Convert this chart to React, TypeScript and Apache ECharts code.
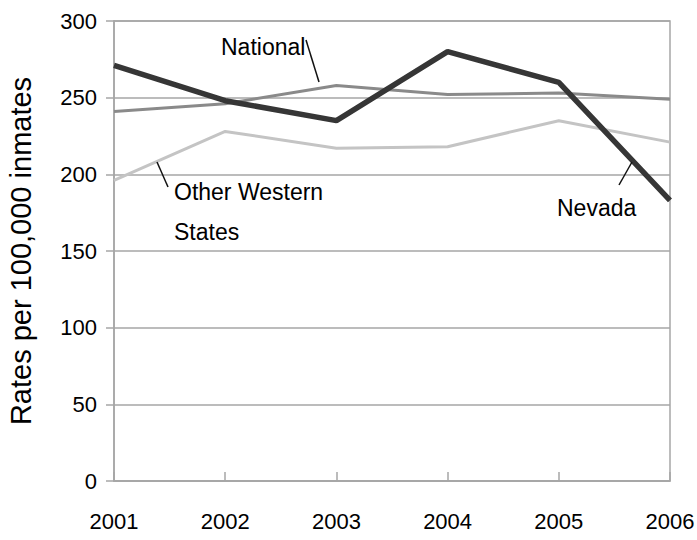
import React, { useEffect, useRef } from "react";
import * as echarts from "echarts";

const years = ["2001", "2002", "2003", "2004", "2005", "2006"];
const nevada = [271, 248, 235, 280, 260, 183];
const national = [241, 246, 258, 252, 253, 249];
const otherWestern = [196, 228, 217, 218, 235, 221];
const yTicks = [0, 50, 100, 150, 200, 250, 300];

const FONT = "'Liberation Sans', Arial, sans-serif";

export default function App() {
  const ref = useRef<HTMLDivElement>(null);
  useEffect(() => {
    if (!ref.current) return;
    const chart = echarts.init(ref.current, undefined, { renderer: "svg" });
    const pointer = { stroke: "#111", lineWidth: 1.5 };
    chart.setOption({
      animation: false,
      backgroundColor: "#fff",
      grid: {
        left: 114,
        right: 27,
        top: 21,
        bottom: 59,
        show: true,
        borderColor: "#a6a6a6",
        borderWidth: 1.5,
        containLabel: false,
        outerBoundsMode: "none",
      },
      xAxis: {
        type: "category",
        data: years,
        boundaryGap: false,
        axisLine: { lineStyle: { color: "#a6a6a6", width: 1.5 } },
        axisTick: { inside: true, length: 9, lineStyle: { color: "#a6a6a6", width: 1.5 } },
        axisLabel: {
          margin: 29,
          fontSize: 22,
          color: "#000",
          fontFamily: FONT,
          showMinLabel: true,
          showMaxLabel: true,
          hideOverlap: false,
        },
        splitLine: { show: false },
      },
      yAxis: {
        type: "value",
        min: yTicks[0],
        max: yTicks[yTicks.length - 1],
        interval: 50,
        name: "Rates per 100,000 inmates",
        nameLocation: "middle",
        nameGap: 79,
        nameTextStyle: { fontSize: 29, color: "#000", fontFamily: FONT },
        axisLine: { show: true, lineStyle: { color: "#a6a6a6", width: 1.5 } },
        axisTick: { show: true, length: 8, lineStyle: { color: "#a6a6a6", width: 1.5 } },
        axisLabel: { margin: 17, fontSize: 22, color: "#000", fontFamily: FONT },
        splitLine: { lineStyle: { color: "#a6a6a6", width: 1.5 } },
      },
      series: [
        {
          name: "Other Western States",
          type: "line",
          data: otherWestern,
          symbol: "none",
          lineStyle: { color: "#c4c4c4", width: 3 },
          z: 2,
        },
        {
          name: "National",
          type: "line",
          data: national,
          symbol: "none",
          lineStyle: { color: "#8a8a8a", width: 3 },
          z: 3,
        },
        {
          name: "Nevada",
          type: "line",
          data: nevada,
          symbol: "none",
          lineStyle: { color: "#363636", width: 5.5 },
          z: 4,
        },
      ],
      graphic: [
        {
          type: "text",
          left: 221,
          top: 35,
          style: { text: "National", fontSize: 23, fontFamily: FONT, fill: "#000" },
          z: 10,
        },
        { type: "line", shape: { x1: 306, y1: 40, x2: 319, y2: 82 }, style: pointer, z: 10 },
        {
          type: "text",
          left: 174,
          top: 172,
          style: {
            text: "Other Western\nStates",
            fontSize: 23,
            lineHeight: 40,
            fontFamily: FONT,
            fill: "#000",
          },
          z: 10,
        },
        { type: "line", shape: { x1: 157, y1: 162, x2: 168, y2: 187 }, style: pointer, z: 10 },
        {
          type: "text",
          left: 557,
          top: 196,
          style: { text: "Nevada", fontSize: 23, fontFamily: FONT, fill: "#000" },
          z: 10,
        },
        { type: "line", shape: { x1: 632, y1: 162, x2: 619, y2: 185 }, style: pointer, z: 10 },
      ],
    });
    return () => chart.dispose();
  }, []);
  return <div ref={ref} style={{ width: 697, height: 540, position: "absolute", left: 0, top: 0 }} />;
}
